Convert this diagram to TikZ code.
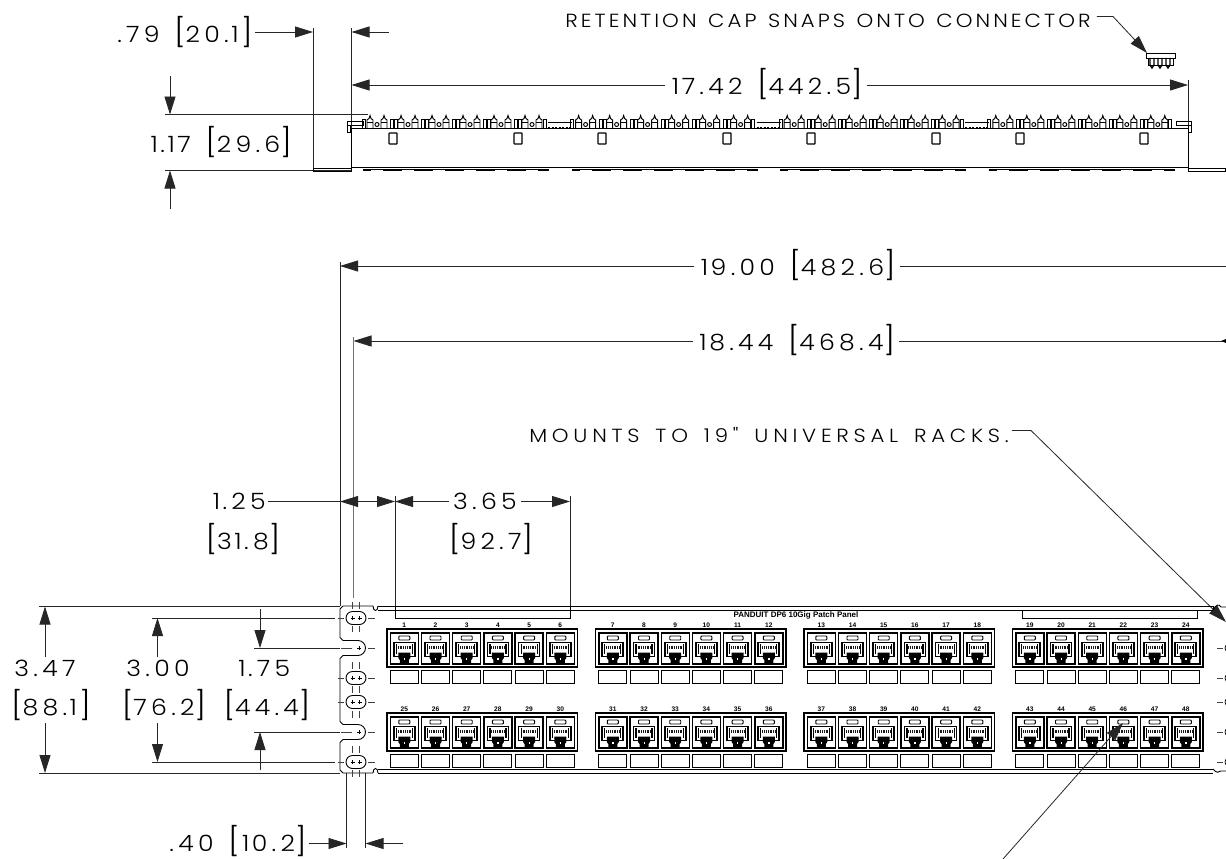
\documentclass[tikz,border=0pt]{standalone}
\usepackage{fontspec}
\usetikzlibrary{arrows.meta}
\newfontfamily\cadbig[LetterSpace=19,FakeStretch=1.12,WordSpace=1.3]{Poppins Light}
\newfontfamily\cadnote[LetterSpace=16,FakeStretch=1.12,WordSpace=1.3]{Poppins Light}
\newfontfamily\cadwide[LetterSpace=25,FakeStretch=1.12,WordSpace=1.5]{Poppins Light}
\newfontfamily\cadbold{Liberation Sans Bold}
\newcommand{\bigdim}[1]{{\fontsize{22.5}{23}\selectfont #1}}
\newcommand{\brk}[1]{{\fontsize{28}{28}\selectfont[}\bigdim{#1}{\fontsize{28}{28}\selectfont]}}
\newcommand{\one}{\kern2.5pt 1\kern2.5pt}
\tikzset{
  dimtext/.style={inner sep=0pt,font=\cadbig\fontsize{22.5}{23}\selectfont,anchor=center},
  notetext/.style={inner sep=0pt,font=\cadnote\fontsize{19}{19}\selectfont,anchor=center},
  widenote/.style={inner sep=0pt,font=\cadwide\fontsize{19}{19}\selectfont,anchor=center},
  dimline/.style={line width=.8pt,black!85},
  ext/.style={line width=.8pt,black!85},
  centerl/.style={line width=.7pt,black!75},
  dimarrow/.style={dimline,-{Triangle[length=18pt,width=11pt]}},
  dimboth/.style={dimline,{Triangle[length=18pt,width=11pt]}-{Triangle[length=18pt,width=11pt]}},
  part/.style={line width=.9pt,black},
  thinpart/.style={line width=.75pt,black},
  tooth/.style={line width=.95pt,black},
  numtext/.style={inner sep=0pt,font=\cadbold\fontsize{6.6}{7}\selectfont,anchor=center}
}
% one RJ45 port, origin at the cell's top left corner
\newcommand{\rjport}[2]{\begin{scope}[shift={(#1,#2)}]
  \draw[line width=1.4pt] (0,0) rectangle (28,31);
  \draw[line width=.9pt,rounded corners=.8pt] (8.5,3) rectangle (19.5,7);
  \draw[line width=1.7pt,fill=white] (3.5,9.5) -- (24.5,9.5) -- (24.5,23.5) -- (3.5,23.5) -- cycle;
  \draw[line width=1.2pt] (6,11) -- (6,21) (22,11) -- (22,21);
  \draw[line width=3pt,dash pattern=on .9pt off .9pt,black!90] (7.5,14) -- (20.5,14);
  \fill[black] (8,19.5) -- (20,19.5) -- (20,25) -- (18.5,27) -- (18.5,30.5) -- (9.5,30.5) -- (9.5,27) -- (8,25) -- cycle;
  \fill[white] (13.5,24.5) rectangle (14.7,27);
\end{scope}}
% one retention-cap group in the top view
\newcommand{\capgroup}[1]{\begin{scope}[shift={(#1,0)}]
  \foreach \k in {0,...,5}{
    \begin{scope}[shift={(31*\k,0)}]
      \draw[tooth] (-3,128) -- (-3,120) -- (-1,118.5) -- (0,115.5) -- (1,118.5) -- (3,120) -- (3,128);
      \draw[tooth] (-3,122) -- (3,122);
      \draw[tooth] (7,124.5) circle (2pt);
      \draw[tooth] (11,128) -- (11,120) -- (13,118.5) -- (14,115.5) -- (15,118.5) -- (17,120) -- (17,128);
      \draw[tooth] (11,122) -- (17,122);
      \ifnum\k<5
      \draw[tooth] (20.5,128) -- (20.5,119.5) -- (23.5,119.5) -- (23.5,128);
      \draw[tooth] (24.5,128) -- (24.5,119.5) -- (27.5,119.5) -- (27.5,128);
      \fi
    \end{scope}}
  \draw[tooth] (-8,128) -- (-8,119.5) -- (-5,119.5) -- (-5,128);
  \draw[tooth] (173,128) -- (173,119.5) -- (176,119.5) -- (176,128);
\end{scope}}
\begin{document}
\begin{tikzpicture}[x=1pt,y=-1pt]
\useasboundingbox[fill=white] (0,0) rectangle (1226,859);

% ---------- TOP VIEW ----------
\coordinate (capTip) at (1147,53);
\node[notetext] (capnote) at (828,21) {RETENTION CAP SNAPS ONTO CONNECTOR};
\coordinate (capElbow) at (1113,16.5);
\draw[dimline,-{Triangle[length=18pt,width=11pt]}] (capnote.east |- capElbow) ++(6,0) -- (capElbow) -- (capTip);
% cap icon
\draw[part] (1146,53) rectangle (1175,58);
\draw[part] (1148,58) -- (1148,65) -- (1173,65) -- (1173,58);
\foreach \t in {1152,1160,1168}{\draw[line width=1.3pt] (\t-2,58) -- (\t-2,65) -- (\t,68) -- (\t+2,65) -- (\t+2,58);}

\node[dimtext] (d79) at (185,32) {.79 \brk{20.\one}};
\coordinate (e79l) at (313,32); \coordinate (e79r) at (351.5,32);
\draw[dimarrow] (d79.east) ++(2,0) -- (e79l);
\draw[dimarrow] (389,32) -- (e79r);
\draw[ext] (313,28) -- (313,168);
\draw[ext] (351.5,28) -- (351.5,168);

\node[dimtext] (d1742) at (766,84) {\one 7.42 \brk{442.5}};
\coordinate (l1742a) at (351.5,85); \coordinate (l1742b) at (1188,85);
\draw[dimarrow] (d1742.west) ++(-4,1) -- (l1742a);
\draw[dimarrow] (d1742.east) ++(4,1) -- (l1742b);
\draw[ext] (1188,80) -- (1188,168);

\node[dimtext] (d117) at (220,142) {\one.\one 7 \brk{29.6}};
\draw[ext] (165,114.5) -- (368,114.5);
\draw[ext] (165,170.5) -- (351,170.5);
\draw[dimarrow] (170,76) -- (170,114.5);
\draw[dimarrow] (170,209) -- (170,170.5);

% panel body, top view
\draw[part] (351.5,128) -- (1188,128);
\draw[part] (351.5,128) -- (351.5,167) -- (1188,167) -- (1188,128);
\draw[part] (313,168) rectangle (351,171);
\draw[part] (1188,168) rectangle (1225,171);
\draw[thinpart] (347,121) rectangle (363,125);
\draw[thinpart] (347,125) rectangle (350,132);
\draw[thinpart] (1176,121) rectangle (1191,125);
\draw[thinpart] (1188,125) rectangle (1191,132);
\foreach \gx in {0,208.6,417.2,625.8}{
  \capgroup{370+\gx}
}
\foreach \gx in {548,756.5,965}{
  \draw[thinpart] (\gx,122) -- (\gx+24,122);
  \draw[line width=.8pt,dash pattern=on 2pt off 1.5pt] (\gx,127) -- (\gx+24,127);
}
\foreach \px in {389,514,598,723,807,932,1016,1140}{
  \draw[line width=1.2pt,rounded corners=.6pt] (\px,133) rectangle (\px+8,144);
}
\foreach \gx in {363,571.5,780,988.5}{
  \draw[line width=1.9pt] (\gx,170.3) -- (\gx+186,170.3);
}
\foreach \gx in {363,571.5,780,988.5}{
  \foreach \k in {0,...,5}{
    \draw[white,line width=1pt] (\gx+8+31*\k,170) -- (\gx+20+31*\k,170);
  }
}

% ---------- FRONT VIEW: dimensions ----------
\node[dimtext] (d1900) at (797,265) {\one 9.00 \brk{482.6}};
\coordinate (l1900a) at (340,266); \coordinate (l1900b) at (1226,266);
\draw[dimarrow] (d1900.west) ++(-4,1) -- (l1900a);
\draw[dimline] (d1900.east) ++(4,1) -- (l1900b);
\draw[ext] (340,262) -- (340,606);

\node[dimtext] (d1844) at (796,340) {\one 8.44 \brk{468.4}};
\coordinate (l1844a) at (353.5,341); \coordinate (l1844b) at (1226,341);
\draw[dimarrow] (d1844.west) ++(-4,1) -- (l1844a);
\draw[dimline] (d1844.east) ++(4,1) -- (l1844b);
\fill[black] (1226,339) -- (1221,341) -- (1226,343) -- cycle;
\draw[line width=.9pt,black!55] (353.5,337) -- (353.5,598);

\node[widenote] (mountnote) at (769,435) {MOUNTS TO 19" UNIVERSAL RACKS.};
\coordinate (mElbow) at (1031,430.5); \coordinate (mTip) at (1226,622);
\draw[dimline,-{Triangle[length=18pt,width=11pt]}] (mountnote.east |- mElbow) ++(3,0) -- (mElbow) -- (mTip);

\node[dimtext] (d125) at (238,501) {\one.25};
\node[dimtext] (d318) at (243,539) {\brk{3\one.8}};
\node[dimtext] (d365) at (485,501) {3.65};
\node[dimtext] (d927) at (491,539) {\brk{92.7}};
\coordinate (a125) at (340,501.5); \coordinate (a395) at (395,501.5); \coordinate (a570) at (570,501.5);
\draw[dimline] (d125.east) ++(2,.5) -- (a125);
\draw[dimboth] (a125) -- (a395);
\draw[dimarrow] (d365.west) ++(-4,.5) -- (a395);
\draw[dimarrow] (d365.east) ++(4,.5) -- (a570);
\draw[ext] (395,496) -- (395,606);
\draw[ext] (570,496) -- (570,606);

\node[dimtext] (d347) at (45,668) {3.47};
\node[dimtext] (d881) at (51,705) {\brk{88.\one}};
\node[dimtext] (d300) at (158,668) {3.00};
\node[dimtext] (d762) at (164,705) {\brk{76.2}};
\node[dimtext] (d175) at (263,668) {\one.75};
\node[dimtext] (d444) at (267,705) {\brk{44.4}};

\draw[ext] (39,606.5) -- (340,606.5);
\draw[ext] (39,773) -- (340,773);
\draw[dimarrow] (45,657) -- (45,606.5);
\draw[dimarrow] (45,723) -- (45,773);
\draw[ext] (152,618) -- (335,618);
\draw[ext] (152,762) -- (335,762);
\draw[dimarrow] (157.5,657) -- (157.5,618);
\draw[dimarrow] (157.5,723) -- (157.5,762);
\draw[ext] (254,648) -- (340,648);
\draw[ext] (254,732) -- (340,732);
\draw[dimarrow] (260,609) -- (260,648);
\draw[dimarrow] (260,770) -- (260,732);

\node[dimtext] (d040) at (238,841) {.40 \brk{\one 0.2}};
\coordinate (a040l) at (346.5,843.5); \coordinate (a040r) at (365.5,843.5);
\draw[dimarrow] (d040.east) ++(2,2.5) -- (a040l);
\draw[dimarrow] (403,843.5) -- (a040r);
\draw[ext] (346.5,773) -- (346.5,848);
\draw[ext] (365.5,773) -- (365.5,848);

% ---------- FRONT VIEW: panel ----------
\draw[part] (378,606) -- (1213,606);
\draw[part] (378,610) -- (1213,610);
\draw[part] (378,769) -- (1213,769);
\draw[part] (378,773) -- (1213,773);
% left flange with notches and slots
\draw[part] (373,606) -- (343,606) -- (340,609) -- (340,637.5) -- (343,640.5)
  -- (358,640.5) arc[start angle=-90,end angle=90,radius=7.5] -- (343,655.5) -- (340,658.5) -- (340,721.5)
  -- (343,724.5) -- (358,724.5) arc[start angle=-90,end angle=90,radius=7.5] -- (343,739.5) -- (340,742.5)
  -- (340,770) -- (343,773) -- (373,773);
\draw[part] (373,606) .. controls (373,612) and (378,612) .. (378,606);
\draw[part] (373,773) .. controls (373,767) and (378,767) .. (378,773);
% right notches
\draw[part] (1213,606) -- (1213,610);
\draw[part] (1213,610) .. controls (1216,604) and (1219,604) .. (1221,607) -- (1226,607);
\draw[part] (1213,769) .. controls (1216,773) and (1219,773) .. (1221,771) -- (1226,771);
% oval holes
\foreach \hy in {618,678,702,762}{
  \draw[line width=.9pt] (352.5,\hy-6.5) -- (359.5,\hy-6.5) arc[start angle=-90,end angle=90,radius=6.5] -- (352.5,\hy+6.5) arc[start angle=90,end angle=270,radius=6.5] -- cycle;
  \draw[thinpart] (350.5,\hy) -- (354.5,\hy) (352.5,\hy-2) -- (352.5,\hy+2);
  \draw[thinpart] (357.5,\hy) -- (361.5,\hy) (359.5,\hy-2) -- (359.5,\hy+2);
  \draw[centerl] (338,\hy) -- (344,\hy) (368,\hy) -- (375,\hy);
}
% slot centre marks
\foreach \hy in {648,732}{
  \draw[thinpart] (357,\hy) -- (361,\hy) (359,\hy-2) -- (359,\hy+2);
  \draw[centerl] (341,\hy) -- (352,\hy) (368,\hy) -- (375,\hy);
}
% vertical centre lines
\foreach \vx in {352.5,359}{
  \draw[centerl] (\vx,602) -- (\vx,609);
  \draw[centerl] (\vx,626) -- (\vx,632);
  \draw[centerl] (\vx,662) -- (\vx,669);
  \draw[centerl] (\vx,686) -- (\vx,693);
  \draw[centerl] (\vx,711) -- (\vx,718);
  \draw[centerl] (\vx,746) -- (\vx,753);
  \draw[centerl] (\vx,770) -- (\vx,777);
}
% right side marks
\foreach \hy in {648,678,702,732,762}{
  \draw[centerl] (1217,\hy) -- (1223,\hy);
  \draw[thinpart] (1226,\hy-3) -- (1225,\hy) -- (1226,\hy+3);
}
% label strips
\draw[part] (395,606) -- (395,618) -- (570,618) -- (570,606);
\draw[part] (1022,610) -- (1022,618) -- (1197,618) -- (1197,610);
\node[inner sep=0pt,font=\cadbold\fontsize{8}{8}\selectfont] (brand) at (796,615) {PANDUIT DP6 10Gig Patch Panel};

% port groups
\foreach \g in {0,1,2,3}{
  \pgfmathsetmacro{\gx}{387+208.5*\g}
  \foreach \r/\fy/\base in {0/629/0,1/713/24}{
    \draw[line width=1.2pt] (\gx,\fy) rectangle (\gx+190.5,\fy+38);
    \foreach \c in {0,...,5}{
      \pgfmathsetmacro{\cx}{\gx+3.3+31.2*\c}
      \pgfmathtruncatemacro{\num}{\base+6*\g+\c+1}
      \rjport{\cx}{\fy+4}
      \draw[line width=1pt] (\cx,\fy+41) rectangle (\cx+28,\fy+54);
      \node[numtext] (n\num) at (\cx+14,\fy-4) {\num};
    }
  }
}

% leader to port 46
\coordinate (pTip) at (1123,723); \coordinate (pEnd) at (1003,859);
\draw[dimline,-{Triangle[length=18pt,width=11pt]}] (pEnd) -- (pTip);
\end{tikzpicture}
\end{document}
